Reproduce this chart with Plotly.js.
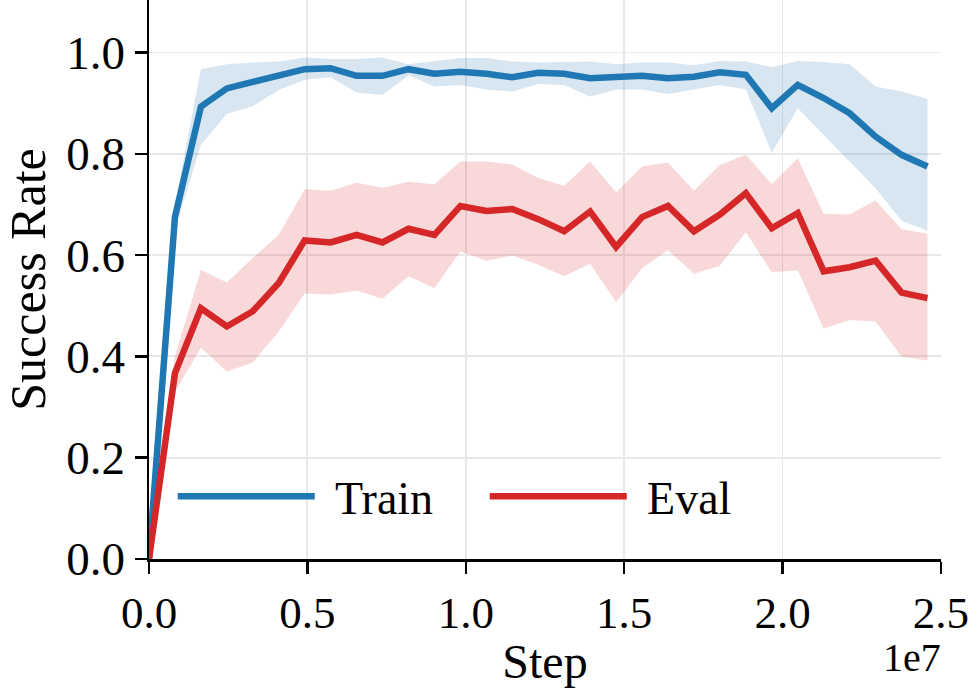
<!DOCTYPE html>
<html>
<head>
<meta charset="utf-8">
<script src="https://cdn.plot.ly/plotly-3.0.1.min.js"></script>
<style>
  html, body { margin: 0; padding: 0; background: #fff; }
  #chart { width: 970px; height: 692px; }
</style>
</head>
<body>
<div id="chart"></div>
<script>
// Training steps at which success rate was logged
const steps = [0, 819200, 1638400, 2457600, 3276800, 4096000, 4915200, 5734400,
  6553600, 7372800, 8192000, 9011200, 9830400, 10649600, 11468800, 12288000,
  13107200, 13926400, 14745600, 15564800, 16384000, 17203200, 18022400,
  18841600, 19660800, 20480000, 21299200, 22118400, 22937600, 23756800, 24576000];

// Train success rate: mean and band
const trainMean = [0, 0.675, 0.893, 0.929, 0.942, 0.956, 0.967, 0.969, 0.954, 0.954,
  0.967, 0.958, 0.962, 0.958, 0.951, 0.960, 0.958, 0.949, 0.952, 0.954, 0.949,
  0.952, 0.961, 0.956, 0.890, 0.936, 0.910, 0.880, 0.834, 0.798, 0.775];
const trainUpper = [0, 0.70, 0.967, 0.977, 0.980, 0.982, 0.990, 0.987, 0.987, 0.990,
  0.977, 0.983, 0.989, 0.989, 0.982, 0.980, 0.981, 0.982, 0.977, 0.980, 0.980,
  0.975, 0.983, 0.982, 0.971, 0.983, 0.981, 0.977, 0.933, 0.923, 0.908];
const trainLower = [0, 0.65, 0.818, 0.879, 0.894, 0.926, 0.946, 0.951, 0.921, 0.916,
  0.955, 0.933, 0.936, 0.927, 0.923, 0.938, 0.936, 0.913, 0.927, 0.927, 0.918,
  0.927, 0.936, 0.927, 0.802, 0.890, 0.837, 0.785, 0.732, 0.668, 0.648];

// Eval success rate: mean and band
const evalMean = [0, 0.367, 0.495, 0.459, 0.489, 0.545, 0.629, 0.625, 0.640, 0.625,
  0.652, 0.640, 0.697, 0.687, 0.691, 0.671, 0.647, 0.686, 0.616, 0.675, 0.697,
  0.647, 0.680, 0.722, 0.653, 0.683, 0.568, 0.576, 0.589, 0.526, 0.515];
const evalUpper = [0, 0.40, 0.571, 0.546, 0.594, 0.640, 0.730, 0.727, 0.743, 0.733,
  0.745, 0.740, 0.785, 0.785, 0.779, 0.752, 0.737, 0.785, 0.724, 0.775, 0.783,
  0.727, 0.778, 0.798, 0.740, 0.791, 0.681, 0.680, 0.708, 0.651, 0.642];
const evalLower = [0, 0.33, 0.417, 0.370, 0.388, 0.449, 0.524, 0.522, 0.530, 0.514,
  0.558, 0.535, 0.607, 0.589, 0.599, 0.581, 0.558, 0.583, 0.507, 0.574, 0.610,
  0.563, 0.579, 0.645, 0.566, 0.570, 0.455, 0.472, 0.469, 0.400, 0.392];

// Axis ticks
const xTickVals = [0, 5e6, 1e7, 1.5e7, 2e7, 2.5e7];
const xTickText = ['0.0', '0.5', '1.0', '1.5', '2.0', '2.5'];
const yTickVals = [0, 0.2, 0.4, 0.6, 0.8, 1.0];
const yTickText = ['0.0', '0.2', '0.4', '0.6', '0.8', '1.0'];

const BLUE = '#1f77b4';
const RED = '#d62728';
const FONT = '"Liberation Serif", "Times New Roman", serif';
const GAP = '\u2004'; // extra space between legend line and label

function band(x, upper, lower, color) {
  return {
    x: x.concat(x.slice().reverse()),
    y: upper.concat(lower.slice().reverse()),
    type: 'scatter', mode: 'lines', fill: 'toself',
    fillcolor: color, line: { width: 0 },
    hoverinfo: 'skip', showlegend: false
  };
}

const traces = [
  band(steps, trainUpper, trainLower, 'rgba(31,119,180,0.18)'),
  band(steps, evalUpper, evalLower, 'rgba(214,39,40,0.18)'),
  { x: steps, y: trainMean, type: 'scatter', mode: 'lines', name: GAP + 'Train',
    line: { color: BLUE, width: 6.5 } },
  { x: steps, y: evalMean, type: 'scatter', mode: 'lines', name: GAP + 'Eval',
    line: { color: RED, width: 6.5 } }
];

const layout = {
  width: 970, height: 692,
  margin: { l: 148.5, r: 29, t: 0, b: 132.5 },
  paper_bgcolor: '#fff', plot_bgcolor: '#fff',
  font: { family: FONT, size: 46, color: '#000' },
  showlegend: true,
  legend: {
    orientation: 'h', x: 0.03, xanchor: 'left', y: 0.112, yanchor: 'middle',
    bgcolor: 'rgba(0,0,0,0)', font: { family: FONT, size: 46, color: '#000' },
    itemwidth: 137, entrywidth: 160, entrywidthmode: 'pixels',
    traceorder: 'normal'
  },
  xaxis: {
    range: [0, 2.5003e7], tickvals: xTickVals, ticktext: xTickText,
    ticklabeloverflow: 'allow',
    showgrid: true, gridcolor: '#e8e8e8', gridwidth: 1.8,
    zeroline: false, showline: true, linecolor: '#000', linewidth: 2.5,
    ticks: 'outside', ticklen: 12, tickwidth: 2.5, tickcolor: '#000',
    tickfont: { family: FONT, size: 45 },
    title: { text: 'Step', font: { family: FONT, size: 48 }, standoff: 8 },
    automargin: false
  },
  yaxis: {
    range: [0, 1.1036], tickvals: yTickVals, ticktext: yTickText,
    showgrid: true, gridcolor: '#e8e8e8', gridwidth: 1.8,
    zeroline: false, showline: true, linecolor: '#000', linewidth: 2.5,
    ticks: 'outside', ticklen: 12, tickwidth: 2.5, tickcolor: '#000',
    tickfont: { family: FONT, size: 47 },
    title: { text: 'Success Rate', font: { family: FONT, size: 50 }, standoff: 20 },
    automargin: false
  },
  annotations: [{
    text: '1e7', xref: 'paper', yref: 'paper', x: 1, y: 0,
    xanchor: 'right', yanchor: 'top', xshift: 2, yshift: -74, showarrow: false,
    font: { family: FONT, size: 40, color: '#000' }
  }]
};

Plotly.newPlot('chart', traces, layout, { staticPlot: true, displayModeBar: false });
</script>
</body>
</html>
